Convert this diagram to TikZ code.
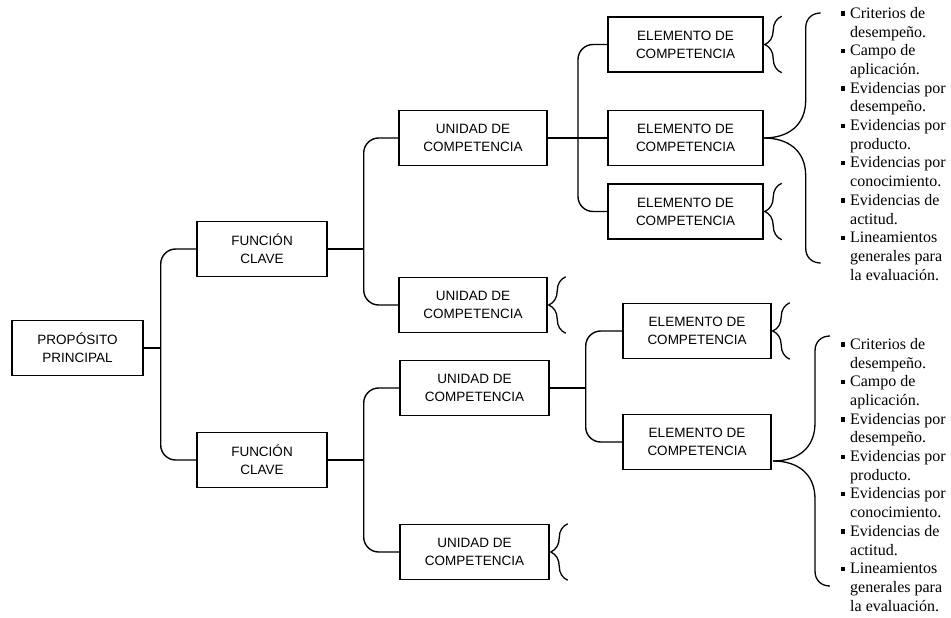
\documentclass[tikz,border=0pt]{standalone}
\usepackage{fontspec}
\setmainfont{Liberation Serif}
\setsansfont{Liberation Sans}
\usetikzlibrary{decorations.pathreplacing}

\tikzset{
	box/.style={draw, line width=1.4pt, inner sep=0pt, minimum height=55pt, align=center, font=\sffamily\fontsize{13.5}{18}\selectfont},
	link/.style={line width=1.4pt, rounded corners=15pt},
	sbrace/.style={line width=1.3pt, decorate, decoration={brace, amplitude=17pt}},
	bbrace/.style={line width=1.3pt},
	lista/.style={anchor=north west, inner sep=0pt, align=left, font=\fontsize{16}{18.7}\selectfont}
}
\newcommand{\bul}{\llap{\raisebox{2.5pt}{\rule{4.5pt}{4.5pt}}\hspace{5pt}}}

\begin{document}
\begin{tikzpicture}[x=1pt, y=-1pt]
	\useasboundingbox (0,0) rectangle (951,618);
	
	\foreach \x/\y/\w/\name/\txt in {
		77.5/348/131/pp/PROPÓSITO\\PRINCIPAL,
		262/249/130/fc1/FUNCIÓN\\CLAVE,
		262/460/130/fc2/FUNCIÓN\\CLAVE,
		473/138/148/u1/UNIDAD DE\\COMPETENCIA,
		473/305/148/u2/UNIDAD DE\\COMPETENCIA,
		474.5/388/149/u3/UNIDAD DE\\COMPETENCIA,
		474.5/552/149/u4/UNIDAD DE\\COMPETENCIA,
		685.5/44.5/155/e1/ELEMENTO DE\\COMPETENCIA,
		685.5/138/155/e2/ELEMENTO DE\\COMPETENCIA,
		685.5/211.5/155/e3/ELEMENTO DE\\COMPETENCIA,
		697/331/148/e4/ELEMENTO DE\\COMPETENCIA,
		697/442/148/e5/ELEMENTO DE\\COMPETENCIA
	}
	{
		\node [box, minimum width=\w pt] (\name) at (\x,\y) {\txt};
	}
	
	% ramas
	\draw [link] (pp.east) -- ++(17,0) coordinate (t0);
	\draw [link] (fc1.west) -| (t0 |- fc2.west) -- (fc2.west);
	
	\draw [link] (fc1.east) -- ++(36,0) coordinate (t1);
	\draw [link] (u1.west) -| (t1 |- u2.west) -- (u2.west);
	
	\draw [link] (fc2.east) -- ++(36,0) coordinate (t2);
	\draw [link] (u3.west) -| (t2 |- u4.west) -- (u4.west);
	
	\coordinate (t3) at (578,138);
	\draw [link] (u1.east) -- (e2.west);
	\draw [link] (e1.west) -| (t3 |- e3.west) -- (e3.west);
	
	\draw [link] (u3.east) -- ++(36,0) coordinate (t4);
	\draw [link] (e4.west) -| (t4 |- e5.west) -- (e5.west);
	
	% llaves
	\foreach \n in {e1,e3,u2,u4,e4}
	{
		\draw [sbrace] ([xshift=18pt]\n.south east) -- ([xshift=18pt]\n.north east);
	}
	\coordinate (b5) at (773,461);
	\foreach \n in {e2,b5}
	{
		\draw [bbrace] (\n.east) .. controls +(25,0) and +(0,25) .. ++(42,-38) -- ++(0,-72) .. controls +(0,-10) and +(-8,0) .. ++(15,-15);
		\draw [bbrace] (\n.east) .. controls +(25,0) and +(0,-25) .. ++(42,38) -- ++(0,72) .. controls +(0,10) and +(-8,0) .. ++(15,15);
	}
	
	\foreach \y/\name in {7/l1, 338/l2}
	{
		\node [lista] (\name) at (850,\y) {\bul Criterios de\\desempeño.\\\bul Campo de\\aplicación.\\\bul Evidencias por\\desempeño.\\\bul Evidencias por\\producto.\\\bul Evidencias por\\conocimiento.\\\bul Evidencias de\\actitud.\\\bul Lineamientos\\generales para\\la evaluación.};
	}
\end{tikzpicture}
\end{document}
